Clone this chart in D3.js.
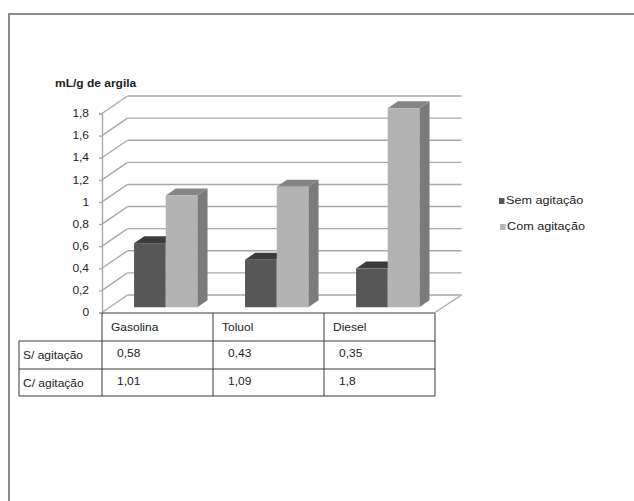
<!DOCTYPE html>
<html>
<head>
<meta charset="utf-8">
<script src="https://cdn.jsdelivr.net/npm/d3@7"></script>
<style>
  html, body { margin: 0; padding: 0; background: #fff; }
  svg { display: block; }
  text { font-family: "Liberation Sans", Arial, sans-serif; fill: #222; }
</style>
</head>
<body>
<svg id="chart" width="634" height="501"></svg>
<script>
// Absorption (mL/g of clay) per solvent, without and with stirring
const categories = ["Gasolina", "Toluol", "Diesel"];
const seriesNames = ["Sem agitação", "Com agitação"];
const rowLabels = ["S/ agitação", "C/ agitação"];
const semAgitacao = [0.58, 0.43, 0.35];
const comAgitacao = [1.01, 1.09, 1.8];
const yTicks = [0, 0.2, 0.4, 0.6, 0.8, 1, 1.2, 1.4, 1.6, 1.8];
const yTitle = "mL/g de argila";

const seriesValues = [semAgitacao, comAgitacao];
const faceColors = [
  { front: "#575757", side: "#464646", top: "#3c3c3c" },
  { front: "#b3b3b3", side: "#7b7b7b", top: "#858585" }
];

const svg = d3.select("#chart");
const fmt = v => String(v).replace(".", ",");
const STRETCH = 1.2;

// text with a slightly wide glyph shape
function label(parent, x, y, str, opts = {}) {
  return parent.append("text")
    .attr("transform", `translate(${x},${y}) scale(${opts.sx || STRETCH},1)`)
    .attr("text-anchor", opts.anchor || "start")
    .attr("font-size", opts.size || 10)
    .attr("font-weight", opts.weight || "normal")
    .text(str);
}

// page frame
svg.append("rect")
  .attr("x", 9).attr("y", 14).attr("width", 700).attr("height", 600)
  .attr("fill", "none").attr("stroke", "#8c8c8c").attr("stroke-width", 2);

// 3D plot geometry: front plane plus a depth vector
const depth = { dx: 25.5, dy: -17.5 };
const x0 = d3.scaleBand().domain(categories).range([102, 435]);
const y = d3.scaleLinear().domain([0, 1.8]).range([312.5, 113.5]);
const x1 = d3.scaleBand().domain(seriesNames)
  .range([x0.bandwidth() * 0.22, x0.bandwidth() * 0.22 + x0.bandwidth() * 0.57]);

const gridColor = "#a9a9a9";
const plot = svg.append("g");

// back wall gridlines and side wall diagonals
yTicks.forEach(t => {
  const yf = y(t), yb = y(t) + depth.dy;
  plot.append("line")
    .attr("x1", x0.range()[0] + depth.dx).attr("x2", x0.range()[1] + depth.dx + 1)
    .attr("y1", yb).attr("y2", yb)
    .attr("stroke", gridColor).attr("stroke-width", 1.4);
  plot.append("line")
    .attr("x1", x0.range()[0]).attr("y1", yf)
    .attr("x2", x0.range()[0] + depth.dx).attr("y2", yb)
    .attr("stroke", gridColor).attr("stroke-width", 1.4);
});

// floor right edge
plot.append("line")
  .attr("x1", x0.range()[1]).attr("y1", y(0))
  .attr("x2", x0.range()[1] + depth.dx + 1).attr("y2", y(0) + depth.dy)
  .attr("stroke", gridColor).attr("stroke-width", 1.4);

// front value axis
const axis = d3.axisLeft(y).tickValues(yTicks).tickFormat(fmt)
  .tickSize(3).tickPadding(7.8);
const axisG = svg.append("g").attr("transform", `translate(${x0.range()[0]},0)`).call(axis);
axisG.select(".domain").attr("stroke", gridColor).attr("stroke-width", 1.4);
axisG.selectAll(".tick line").attr("stroke", gridColor).attr("stroke-width", 1.4);
axisG.selectAll(".tick text")
  .attr("font-size", 10).attr("font-family", "Liberation Sans, Arial, sans-serif")
  .attr("fill", "#222")
  .attr("transform", `scale(${STRETCH},1)`);

// axis title
label(svg, 55, 87, yTitle, { weight: "bold", size: 10 });

// 3D bars
const f1 = 0.3, f2 = 0.7;
const bars = svg.append("g");
categories.forEach((cat, ci) => {
  seriesNames.forEach((s, si) => {
    const v = seriesValues[si][ci];
    const c = faceColors[si];
    const xl = x0(cat) + x1(s) + depth.dx * f1;
    const xr = xl + x1.bandwidth();
    const yt = y(v) + depth.dy * f1;
    const yb = y(0) + depth.dy * f1;
    const ddx = depth.dx * (f2 - f1), ddy = depth.dy * (f2 - f1);
    const g = bars.append("g");
    g.append("polygon")
      .attr("points", [[xr, yt], [xr + ddx, yt + ddy], [xr + ddx, yb + ddy], [xr, yb]].join(" "))
      .attr("fill", c.side);
    g.append("polygon")
      .attr("points", [[xl, yt], [xl + ddx, yt + ddy], [xr + ddx, yt + ddy], [xr, yt]].join(" "))
      .attr("fill", c.top);
    g.append("rect")
      .attr("x", xl).attr("y", yt).attr("width", xr - xl).attr("height", yb - yt)
      .attr("fill", c.front);
  });
});

// legend
const legend = svg.append("g");
seriesNames.forEach((s, i) => {
  const ly = 204 + i * 26;
  legend.append("rect")
    .attr("x", 499 + i).attr("y", ly - 6).attr("width", 5.5).attr("height", 6)
    .attr("fill", faceColors[i].front);
  label(legend, 506 + i, ly, s, { size: 11, sx: 1.15 });
});

// data table under the plot
const table = svg.append("g");
const rowTop = [313, 341, 369, 396];
const leftCol = 19;
const lineColor = "#3a3a3a";
const colEdges = categories.map(c => x0(c)).concat([x0.range()[1]]);

// horizontal rules
table.append("line").attr("x1", colEdges[0]).attr("x2", colEdges[3])
  .attr("y1", rowTop[0]).attr("y2", rowTop[0]).attr("stroke", lineColor);
[1, 2, 3].forEach(r => {
  table.append("line").attr("x1", leftCol).attr("x2", colEdges[3])
    .attr("y1", rowTop[r]).attr("y2", rowTop[r]).attr("stroke", lineColor);
});
// vertical rules
colEdges.forEach(xe => {
  table.append("line").attr("x1", xe).attr("x2", xe)
    .attr("y1", rowTop[0]).attr("y2", rowTop[3]).attr("stroke", lineColor);
});
table.append("line").attr("x1", leftCol).attr("x2", leftCol)
  .attr("y1", rowTop[1]).attr("y2", rowTop[3]).attr("stroke", lineColor);

// header cells
categories.forEach(c => label(table, x0(c) + 9, rowTop[0] + 18, c));
// row cells
rowLabels.forEach((r, ri) => {
  label(table, leftCol + 4, rowTop[ri + 1] + 18, r);
  categories.forEach((c, ci) => {
    label(table, x0(c) + 15, rowTop[ri + 1] + 16, fmt(seriesValues[ri][ci]));
  });
});
</script>
</body>
</html>
